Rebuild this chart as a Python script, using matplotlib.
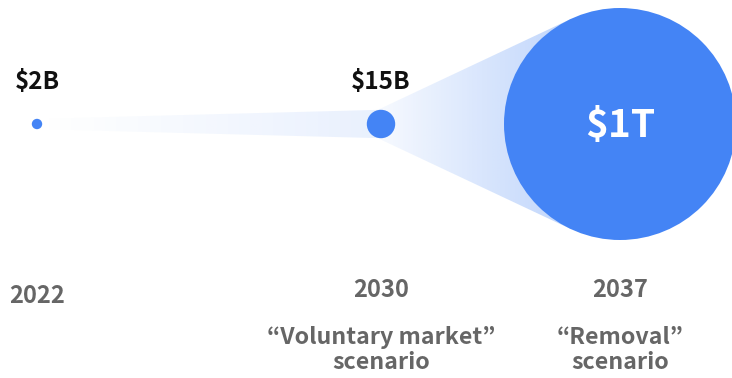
import numpy as np
import matplotlib
matplotlib.use("Agg")
import matplotlib.pyplot as plt
from matplotlib.patches import Circle, Polygon
from matplotlib.colors import to_rgb

plt.rcParams['font.family'] = ['Noto Sans CJK JP', 'DejaVu Sans']

# market size in $B
years = ["2022", "2030", "2037"]
values = [2, 15, 1000]
value_labels = ["$2B", "$15B", "$1T"]
scenarios = ["", "\u201cVoluntary market\u201d\nscenario", "\u201cRemoval\u201d\nscenario"]

xpos = [37, 381, 620]
yc = 124
scale = 116 / np.sqrt(1000)
blue = "#4484f5"

fig = plt.figure(figsize=(7.32, 3.78), dpi=100)
ax = fig.add_axes([0, 0, 1, 1])
ax.set_xlim(0, 732)
ax.set_ylim(378, 0)
ax.axis("off")

radii = [scale * np.sqrt(v) for v in values]


def tangent_poly(x1, r1, x2, r2):
    s = (r2 - r1) / (x2 - x1)
    c = np.sqrt(1 - s * s)
    return [(x1 - r1 * s, yc - r1 * c), (x2 - r2 * s, yc - r2 * c),
            (x2 - r2 * s, yc + r2 * c), (x1 - r1 * s, yc + r1 * c)]


def gradient_fill(pts, a0, a1):
    pts = np.array(pts)
    x0, x1 = pts[:, 0].min(), pts[:, 0].max()
    y0, y1 = pts[:, 1].min(), pts[:, 1].max()
    n = 256
    img = np.zeros((1, n, 4))
    img[..., :3] = to_rgb(blue)
    img[..., 3] = np.linspace(a0, a1, n)
    poly = Polygon(pts, closed=True, facecolor="none", edgecolor="none")
    ax.add_patch(poly)
    im = ax.imshow(img, extent=(x0, x1, y1, y0), aspect="auto",
                   interpolation="bilinear", zorder=1)
    im.set_clip_path(poly)


gradient_fill(tangent_poly(xpos[0], radii[0], xpos[1], radii[1]), 0.0, 0.12)
gradient_fill(tangent_poly(xpos[1], radii[1], xpos[2], radii[2]), 0.04, 0.34)

for x, r in zip(xpos, radii):
    ax.add_patch(Circle((x, yc), r, facecolor=blue, edgecolor="none", zorder=2))

ax.text(xpos[0], 82, value_labels[0], ha="center", va="center",
        fontsize=17.5, fontweight="bold", color="#111111")
ax.text(xpos[1], 82, value_labels[1], ha="center", va="center",
        fontsize=17.5, fontweight="bold", color="#111111")
ax.text(xpos[2], 125, value_labels[2], ha="center", va="center",
        fontsize=28, fontweight="bold", color="white", zorder=3)

year_y = [296, 290, 290]
for x, y, yr in zip(xpos, year_y, years):
    ax.text(x, y, yr, ha="center", va="center", fontsize=17,
            fontweight="bold", color="#666666")

for x, sc in zip(xpos, scenarios):
    if sc:
        ax.text(x, 350, sc, ha="center", va="center", fontsize=16.7,
                fontweight="bold", color="#666666", linespacing=1.15)

fig.savefig("out.png", dpi=100)
